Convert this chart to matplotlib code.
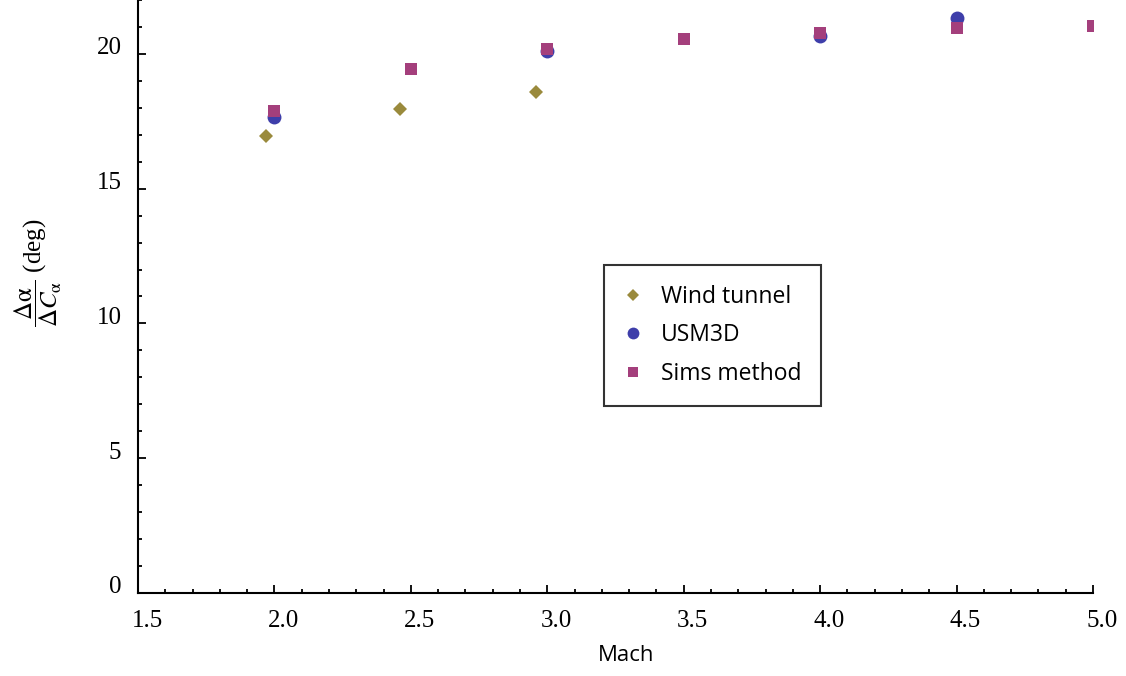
import matplotlib
matplotlib.use("Agg")
import matplotlib.pyplot as plt
import matplotlib.transforms as mtransforms
from matplotlib.ticker import MultipleLocator, FormatStrFormatter

plt.rcParams["mathtext.fontset"] = "stix"

# data
wt_mach = [1.97, 2.46, 2.96]
wt_val = [16.95, 17.96, 18.6]

usm_mach = [2.0, 3.0, 4.0, 4.5]
usm_val = [17.66, 20.11, 20.67, 21.34]

sims_mach = [2.0, 2.5, 3.0, 3.5, 4.0, 4.5, 5.0]
sims_val = [17.88, 19.44, 20.19, 20.56, 20.78, 20.97, 21.04]

fig = plt.figure(figsize=(11.26, 6.76), dpi=100)
ax = fig.add_axes([0.1226, 0.1228, 0.8481, 0.8772])

ax.plot(wt_mach, wt_val, "D", color="#9a8a3c", markersize=7.5, markeredgewidth=0,
        label="Wind tunnel")
ax.plot(usm_mach, usm_val, "o", color="#3e3eaa", markersize=10, markeredgewidth=0,
        label="USM3D")
ax.plot(sims_mach, sims_val, "s", color="#a43f7c", markersize=8.5, markeredgewidth=0,
        label="Sims method")

ax.set_xlim(1.5, 5.0)
ax.set_ylim(0, 22)

ax.spines[["top", "right"]].set_visible(False)
ax.spines[["left", "bottom"]].set_linewidth(1.5)

ax.xaxis.set_major_locator(MultipleLocator(0.5))
ax.xaxis.set_minor_locator(MultipleLocator(0.1))
ax.xaxis.set_major_formatter(FormatStrFormatter("%.1f"))
ax.yaxis.set_major_locator(MultipleLocator(5))
ax.yaxis.set_minor_locator(MultipleLocator(1))

ax.tick_params(which="both", direction="in", width=1.3)
ax.tick_params(which="major", length=6, pad=12)
ax.tick_params(which="minor", length=3)

# tick labels sit a little off-centre in the original
x_shift = mtransforms.ScaledTranslation(0.09, 0, fig.dpi_scale_trans)
y_shift = mtransforms.ScaledTranslation(0, 0.08, fig.dpi_scale_trans)
for lab in ax.get_xticklabels():
    lab.set_fontfamily("Liberation Serif")
    lab.set_fontsize(18)
    lab.set_transform(lab.get_transform() + x_shift)
for lab in ax.get_yticklabels():
    lab.set_fontfamily("Liberation Serif")
    lab.set_fontsize(18)
    lab.set_transform(lab.get_transform() + y_shift)

ax.set_xlabel("Mach", fontfamily="Open Sans", fontsize=16)
ax.xaxis.set_label_coords(0.511, -0.088)
ax.set_ylabel(r"$\dfrac{\Delta\mathrm{\alpha}}{\Delta C_{\mathrm{\alpha}}}$ (deg)",
              fontfamily="Liberation Serif", fontsize=18)
ax.yaxis.set_label_coords(-0.078, 0.54)

leg = ax.legend(loc="upper left", bbox_to_anchor=(0.488, 0.553), borderaxespad=0,
                frameon=True, fancybox=False, edgecolor="black", borderpad=0.85,
                labelspacing=0.65, handlelength=0.8, handletextpad=0.85,
                markerscale=0.85, prop={"family": "Open Sans", "size": 16.5})
leg.get_frame().set_linewidth(1.5)

fig.savefig("out.png", dpi=100)
